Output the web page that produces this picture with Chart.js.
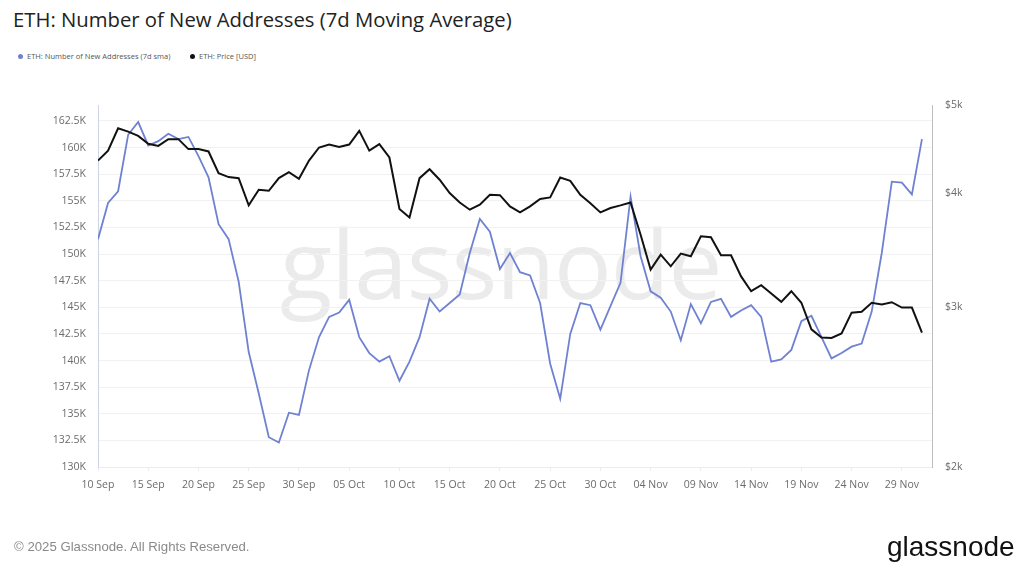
<!DOCTYPE html>
<html>
<head>
<meta charset="utf-8">
<script src="https://cdn.jsdelivr.net/npm/chart.js@4"></script>
<style>
  html, body { margin:0; padding:0; background:#fff; }
  body { width:1024px; height:567px; position:relative; overflow:hidden; font-family:"Open Sans", sans-serif; }
  #title { position:absolute; left:13px; top:5px; font-size:20.3px; color:#222; font-family:"Open Sans", sans-serif; white-space:nowrap; }
  .leg { position:absolute; top:51px; font-size:7.5px; color:#555; white-space:nowrap; }
  .leg span.dot { display:inline-block; width:5px; height:5px; border-radius:50%; margin-right:4px; vertical-align:middle; position:relative; top:-1px; }
  #wm { position:absolute; left:280px; top:196px; font-size:96px; color:#ebebeb; font-family:"Open Sans", sans-serif; letter-spacing:-1px; white-space:nowrap; }
  #foot { position:absolute; left:14px; top:539px; font-size:13.2px; color:#8a8a8a; font-family:"Liberation Sans", Arial, sans-serif; white-space:nowrap; }
  #logo { position:absolute; left:887px; top:531px; font-size:28px; color:#111; font-family:"Liberation Sans", Arial, sans-serif; letter-spacing:0px; white-space:nowrap; }
  #c { position:absolute; left:0; top:0; }
</style>
</head>
<body>
<div id="wm">glassnode</div>
<div id="title">ETH: Number of New Addresses (7d Moving Average)</div>
<div class="leg" style="left:18px;"><span class="dot" style="background:#6f82d2"></span>ETH: Number of New Addresses (7d sma)</div>
<div class="leg" style="left:190px;"><span class="dot" style="background:#111"></span>ETH: Price [USD]</div>
<canvas id="c" width="1024" height="567"></canvas>
<div id="foot">© 2025 Glassnode. All Rights Reserved.</div>
<div id="logo">glassnode</div>
<script>
const categories = [
 "10 Sep","11 Sep","12 Sep","13 Sep","14 Sep","15 Sep","16 Sep","17 Sep","18 Sep","19 Sep",
 "20 Sep","21 Sep","22 Sep","23 Sep","24 Sep","25 Sep","26 Sep","27 Sep","28 Sep","29 Sep","30 Sep",
 "01 Oct","02 Oct","03 Oct","04 Oct","05 Oct","06 Oct","07 Oct","08 Oct","09 Oct","10 Oct",
 "11 Oct","12 Oct","13 Oct","14 Oct","15 Oct","16 Oct","17 Oct","18 Oct","19 Oct","20 Oct",
 "21 Oct","22 Oct","23 Oct","24 Oct","25 Oct","26 Oct","27 Oct","28 Oct","29 Oct","30 Oct","31 Oct",
 "01 Nov","02 Nov","03 Nov","04 Nov","05 Nov","06 Nov","07 Nov","08 Nov","09 Nov","10 Nov",
 "11 Nov","12 Nov","13 Nov","14 Nov","15 Nov","16 Nov","17 Nov","18 Nov","19 Nov","20 Nov",
 "21 Nov","22 Nov","23 Nov","24 Nov","25 Nov","26 Nov","27 Nov","28 Nov","29 Nov","30 Nov",
 "01 Dec"
];
const newAddresses = [
 151400,154800,155900,161200,162400,160200,160600,161300,160800,161000,
 159200,157200,152800,151400,147400,140800,136900,132800,132300,135100,134900,
 139100,142200,144100,144500,145700,142200,140700,139900,140400,138100,
 139900,142200,145800,144600,145400,146200,150100,153300,152100,148600,
 150100,148300,148000,145400,139700,136400,142500,145400,145200,142900,145100,
 147300,155400,149800,146500,145900,144600,141900,145300,143500,145500,
 145800,144100,144700,145200,144100,139900,140100,141000,143700,144200,
 142200,140200,140700,141300,141600,144600,150100,156800,156700,155600,
 160800
];
const ethPrice = [
 4344,4455,4714,4674,4624,4532,4508,4586,4586,4472,
 4472,4445,4208,4166,4155,3878,4034,4024,4155,4219,4148,
 4344,4490,4524,4495,4524,4683,4455,4529,4378,3843,
 3762,4155,4250,4138,4001,3907,3836,3885,3984,3980,
 3868,3810,3868,3941,3957,4162,4127,3984,3900,3810,3852,
 3878,3907,3600,3296,3424,3324,3433,3410,3586,3577,
 3418,3418,3240,3121,3169,3103,3038,3121,3031,2834,
 2775,2773,2805,2956,2963,3031,3018,3035,2994,2994,
 2811
];
const leftTicks = [130000,132500,135000,137500,140000,142500,145000,147500,150000,152500,155000,157500,160000,162500];
const rightTicks = [2000,3000,4000,5000];

const tickFont = { family: "Open Sans", size: 10.5 };
const tickColor = "#6b6b6b";

new Chart(document.getElementById('c'), {
  type: 'line',
  data: {
    datasets: [
      {
        label: 'ETH: Price [USD]',
        data: ethPrice.map((v,i)=>({x:i, y:v})),
        yAxisID: 'y1',
        borderColor: '#111111',
        borderWidth: 2,
        pointRadius: 0,
        tension: 0
      },
      {
        label: 'ETH: Number of New Addresses (7d sma)',
        data: newAddresses.map((v,i)=>({x:i, y:v})),
        yAxisID: 'y',
        borderColor: '#6f82d2',
        borderWidth: 1.8,
        pointRadius: 0,
        tension: 0
      }
    ]
  },
  options: {
    responsive: false,
    animation: false,
    layout: { padding: { top: 105, left: 0, right: 0, bottom: 0 } },
    plugins: { legend: { display: false }, tooltip: { enabled: false } },
    scales: {
      x: {
        type: 'linear',
        min: 0,
        max: 83,
        afterFit: s => { s.height = 100; },
        afterBuildTicks: s => { s.ticks = categories.map((c,i)=>i).filter(i => i % 5 === 0).map(v => ({value:v})); },
        ticks: {
          autoSkip: false, maxRotation: 0, padding: 8,
          font: tickFont, color: tickColor,
          callback: v => categories[v]
        },
        grid: { drawOnChartArea: false, drawTicks: true, tickLength: 4, color: '#ececec' },
        border: { display: true, color: '#ececec' }
      },
      y: {
        position: 'left',
        min: 130000,
        max: 164000,
        afterFit: s => { s.width = 98; },
        afterBuildTicks: s => { s.ticks = leftTicks.map(v => ({value:v})); },
        ticks: {
          padding: 12, font: tickFont, color: tickColor,
          callback: v => (v/1000) + 'K'
        },
        grid: { color: '#f1f1f1', drawTicks: false },
        border: { display: true, color: '#cdd4e6' }
      },
      y1: {
        type: 'logarithmic',
        position: 'right',
        min: 2000,
        max: 5000,
        afterFit: s => { s.width = 92; },
        afterBuildTicks: s => { s.ticks = rightTicks.map(v => ({value:v})); },
        ticks: {
          padding: 13, font: tickFont, color: tickColor,
          callback: v => '$' + (v/1000) + 'k'
        },
        grid: { drawOnChartArea: false, drawTicks: false },
        border: { display: true, color: '#bdbdbd' }
      }
    }
  }
});
</script>
</body>
</html>
